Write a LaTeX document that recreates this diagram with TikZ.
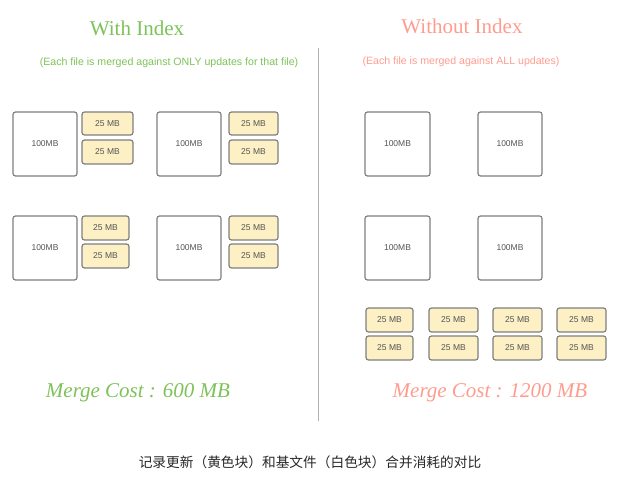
\documentclass[tikz,border=0pt]{standalone}
\usepackage{fontspec}
\setmainfont{Liberation Serif}
\newfontfamily\sansf{Liberation Sans}
\newfontfamily\cjk{Noto Sans CJK SC}
\definecolor{gtxt}{HTML}{7DC258}
\definecolor{rtxt}{HTML}{FF9C8E}
\definecolor{bordc}{HTML}{7F7F7F}
\definecolor{yfill}{HTML}{FDF0C4}
\definecolor{btxt}{HTML}{555555}
\tikzset{
  base/.style={draw=bordc, line width=1.2pt, rounded corners=2.5pt, fill=white, inner sep=0pt,
    font=\sansf\fontsize{8.5}{10}\selectfont, text=btxt},
  upd/.style={base, fill=yfill},
}
\newcommand{\bx}[7]{\node[#1, minimum width=#4-#2 pt, minimum height=#5-#3 pt] (#6) at ({(#2+#4)/2},{(#3+#5)/2}) {#7};}
\begin{document}
\begin{tikzpicture}[x=1pt,y=-1pt]
\useasboundingbox (0,0) rectangle (620,481);
% titles
\node[text=gtxt, font=\fontsize{21}{25}\selectfont] (t1) at (137,28) {With Index};
\node[text=rtxt, font=\fontsize{21}{25}\selectfont] (t2) at (462,26) {Without Index};
\node[text=gtxt, font=\sansf\fontsize{10.6}{12}\selectfont] (s1) at (169,63) {(Each file is merged against ONLY updates for that file)};
\node[text=rtxt, font=\sansf\fontsize{10.6}{12}\selectfont] (s2) at (461,62) {(Each file is merged against ALL updates)};
% divider
\coordinate (d1) at (318,48);
\coordinate (d2) at (318,421);
\draw[draw=black!30, line width=1pt] (d1) -- (d2);
% left
\bx{base}{13}{112}{77}{176}{l1}{100MB}
\bx{upd}{82}{112}{133}{135}{l1a}{25 MB}
\bx{upd}{82}{140}{133}{164}{l1b}{25 MB}
\bx{base}{157}{112}{221}{176}{l2}{100MB}
\bx{upd}{229}{112}{278}{135}{l2a}{25 MB}
\bx{upd}{229}{140}{278}{164}{l2b}{25 MB}
\bx{base}{13}{216}{77}{280}{l3}{100MB}
\bx{upd}{82}{216}{129}{240}{l3a}{25 MB}
\bx{upd}{82}{244}{129}{268}{l3b}{25 MB}
\bx{base}{157}{216}{221}{280}{l4}{100MB}
\bx{upd}{229}{216}{278}{240}{l4a}{25 MB}
\bx{upd}{229}{244}{278}{268}{l4b}{25 MB}
% right
\bx{base}{365}{112}{430}{176}{r1}{100MB}
\bx{base}{478}{112}{542}{176}{r2}{100MB}
\bx{base}{365}{216}{430}{280}{r3}{100MB}
\bx{base}{478}{216}{542}{280}{r4}{100MB}
\bx{upd}{366}{308}{413}{332}{u1}{25 MB}
\bx{upd}{429}{308}{478}{332}{u2}{25 MB}
\bx{upd}{493}{308}{542}{332}{u3}{25 MB}
\bx{upd}{557}{308}{606}{332}{u4}{25 MB}
\bx{upd}{366}{336}{413}{360}{u5}{25 MB}
\bx{upd}{429}{336}{478}{360}{u6}{25 MB}
\bx{upd}{493}{336}{542}{360}{u7}{25 MB}
\bx{upd}{557}{336}{606}{360}{u8}{25 MB}
% costs
\node[text=gtxt, font=\itshape\fontsize{21}{25}\selectfont] (c1) at (138,393) {Merge Cost : 600 MB};
\node[text=rtxt, font=\itshape\fontsize{21}{25}\selectfont] (c2) at (490,393) {Merge Cost : 1200 MB};
% caption
\node[text=black!85, font=\cjk\fontsize{13.7}{16}\selectfont] (cap) at (310,462) {记录更新（黄色块）和基文件（白色块）合并消耗的对比};
\end{tikzpicture}
\end{document}
